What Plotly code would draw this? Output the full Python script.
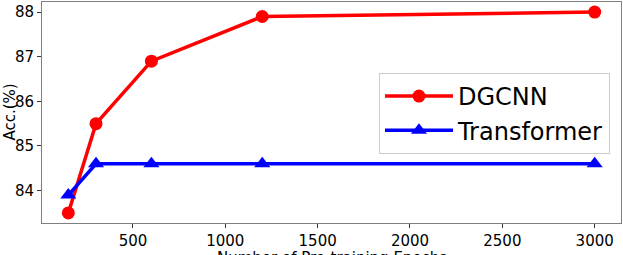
import plotly.graph_objects as go

epochs = [150, 300, 600, 1200, 3000]
dgcnn = [83.5, 85.5, 86.9, 87.9, 88.0]
transformer = [83.9, 84.6, 84.6, 84.6, 84.6]
xticks = [500, 1000, 1500, 2000, 2500, 3000]
yticks = [84, 85, 86, 87, 88]

FONT = "DejaVu Sans"

fig = go.Figure()
fig.add_trace(go.Scatter(
    x=epochs, y=dgcnn, mode="lines+markers", name="DGCNN", legendgroup="a",
    line=dict(color="#ff0000", width=3.5),
    marker=dict(symbol="circle", size=13, color="#ff0000"),
))
fig.add_trace(go.Scatter(
    x=epochs, y=transformer, mode="lines+markers", name="Transformer", legendgroup="b",
    line=dict(color="#0000ff", width=3.5),
    marker=dict(symbol="triangle-up", size=14, color="#0000ff"),
))

axis_common = dict(
    showline=True, linecolor="#808080", linewidth=1, mirror=True,
    ticks="outside", ticklen=4, tickcolor="#333333", tickwidth=1,
    showgrid=False, zeroline=False, automargin=False,
    tickfont=dict(family=FONT, size=15, color="black"),
)

fig.update_layout(
    width=623, height=255,
    margin=dict(l=42, r=2, t=2, b=32),
    paper_bgcolor="white", plot_bgcolor="white",
    font=dict(family=FONT, color="black"),
    xaxis=dict(range=[7.5, 3142.5], tickvals=xticks, ticktext=[str(v) for v in xticks], **axis_common),
    yaxis=dict(range=[83.275, 88.225], tickvals=yticks, ticktext=[str(v) for v in yticks], **axis_common),
    showlegend=True,
    legend=dict(
        x=0.582, y=0.679, xanchor="left", yanchor="top",
        bgcolor="white", bordercolor="#cccccc", borderwidth=1,
        font=dict(family=FONT, size=24, color="black"),
        tracegroupgap=0, itemwidth=68,
    ),
    annotations=[
        dict(text="Number of Pre-training Epochs", xref="paper", yref="paper",
             x=0.5, y=0, yshift=-24, xanchor="center", yanchor="top", showarrow=False,
             font=dict(family=FONT, size=15, color="black")),
        dict(text="Acc.(%)", xref="paper", yref="paper",
             x=0, xshift=-33, y=0.5, xanchor="center", yanchor="middle", textangle=-90,
             showarrow=False, font=dict(family=FONT, size=15, color="black")),
    ],
)

fig.write_html(
    "out.html",
    config={"displayModeBar": False},
    post_script="document.body.style.margin='0';document.body.style.overflow='hidden';",
)
